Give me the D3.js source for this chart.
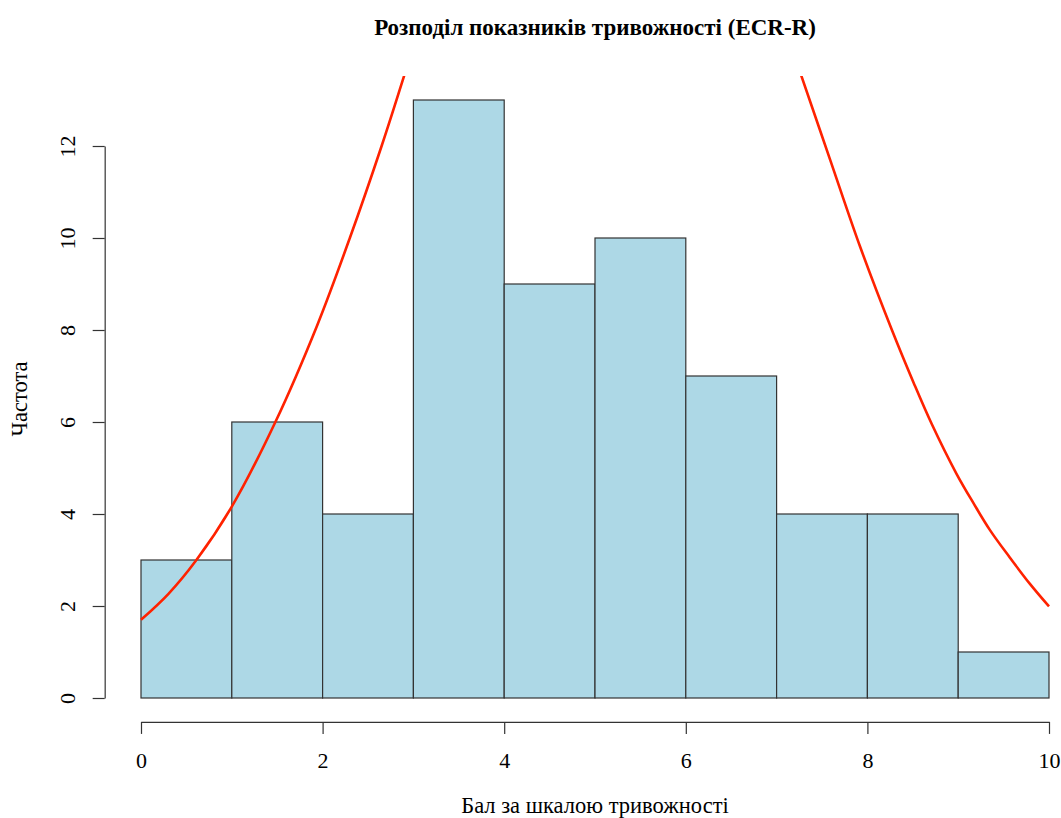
<!DOCTYPE html>
<html>
<head>
<meta charset="utf-8">
<script src="https://cdn.jsdelivr.net/npm/d3@7"></script>
<style>
  body { margin: 0; background: #fff; }
  svg { display: block; font-family: "Liberation Serif", "DejaVu Serif", serif; }
  .axis path, .axis line { stroke: #333; stroke-width: 1.2; }
  .axis text { font-size: 22px; fill: #000; font-family: "Liberation Serif", serif; }
</style>
</head>
<body>
<div id="viz"></div>
<script>
// histogram data (bin edges + counts)
const binStarts = [0, 1, 2, 3, 4, 5, 6, 7, 8, 9]
const binWidth = 1
const counts = [3, 6, 4, 13, 9, 10, 7, 4, 4, 1]

// red density curve (middle part is off the chart)
const curveLeftX = [0, 0.3, 0.61, 1.0, 1.48, 1.94, 2.3, 2.65, 2.9]
const curveLeftY = [1.70, 2.26, 3.0, 4.16, 6.0, 8.1, 10.0, 12.0, 13.54]
const curveRightX = [7.27, 7.59, 7.92, 8.27, 8.51, 8.71, 8.98, 9.17, 9.35, 9.57, 9.79, 10]
const curveRightY = [13.54, 11.7, 9.81, 8.0, 6.85, 5.95, 4.88, 4.23, 3.65, 3.05, 2.48, 1.99]

const xTicks = [0, 2, 4, 6, 8, 10]
const yTicks = [0, 2, 4, 6, 8, 10, 12]

const titleText = "Розподіл показників тривожності (ECR-R)"
const xLabel = "Бал за шкалою тривожності"
const yLabel = "Частота"

const width = 1061
const height = 818

// R-like plot region (x: -0.4..10.4, y: -0.52..13.52)
const xScale = d3.scaleLinear().domain([0, 10]).range([141, 1049])
const yScale = d3.scaleLinear().domain([0, 12]).range([698, 146])
const plotLeft = xScale(-0.4), plotRight = xScale(10.4)
const plotTop = yScale(13.52), plotBottom = yScale(-0.52)

const svg = d3.select("#viz").append("svg")
  .attr("width", width)
  .attr("height", height)

svg.append("clipPath").attr("id", "plotclip")
  .append("rect")
  .attr("x", plotLeft).attr("y", plotTop)
  .attr("width", plotRight - plotLeft).attr("height", plotBottom - plotTop)

// bars
svg.append("g").selectAll("rect")
  .data(counts)
  .enter().append("rect")
  .attr("x", (d, i) => xScale(binStarts[i]))
  .attr("y", d => yScale(d))
  .attr("width", (d, i) => xScale(binStarts[i] + binWidth) - xScale(binStarts[i]))
  .attr("height", d => yScale(0) - yScale(d))
  .attr("fill", "#add8e6")
  .attr("stroke", "#333")
  .attr("stroke-width", 1.2)

// density curve
const line = d3.line()
  .x(d => xScale(d[0]))
  .y(d => yScale(d[1]))
  .curve(d3.curveCatmullRom.alpha(0.5))

const curveG = svg.append("g").attr("clip-path", "url(#plotclip)")
;[[curveLeftX, curveLeftY], [curveRightX, curveRightY]].forEach(function(c) {
  curveG.append("path")
    .datum(c[0].map((x, i) => [x, c[1][i]]))
    .attr("d", line)
    .attr("fill", "none")
    .attr("stroke", "#ff2200")
    .attr("stroke-width", 2.6)
})

// x axis
const xAxisG = svg.append("g")
  .attr("class", "axis")
  .attr("transform", "translate(0," + plotBottom + ")")
  .call(d3.axisBottom(xScale).tickValues(xTicks).tickSize(12).tickSizeOuter(0).tickPadding(0))
xAxisG.selectAll("text").attr("y", 38).attr("dy", "0.35em")

// y axis
const yAxisG = svg.append("g")
  .attr("class", "axis")
  .attr("transform", "translate(" + plotLeft + ",0)")
  .call(d3.axisLeft(yScale).tickValues(yTicks).tickSize(12).tickSizeOuter(0))
yAxisG.selectAll("text")
  .attr("x", 0)
  .attr("dy", "0.35em")
  .attr("text-anchor", "middle")
  .attr("transform", "translate(-37,0) rotate(-90)")

// title
svg.append("text")
  .attr("x", (plotLeft + plotRight) / 2)
  .attr("y", 35)
  .attr("text-anchor", "middle")
  .style("font-size", "23px")
  .style("font-weight", "bold")
  .text(titleText)

// x label
svg.append("text")
  .attr("x", (plotLeft + plotRight) / 2)
  .attr("y", 813)
  .attr("text-anchor", "middle")
  .style("font-size", "22.5px")
  .text(xLabel)

// y label
svg.append("text")
  .attr("transform", "translate(27," + ((plotTop + plotBottom) / 2) + ") rotate(-90)")
  .attr("text-anchor", "middle")
  .style("font-size", "22.5px")
  .text(yLabel)
</script>
</body>
</html>
